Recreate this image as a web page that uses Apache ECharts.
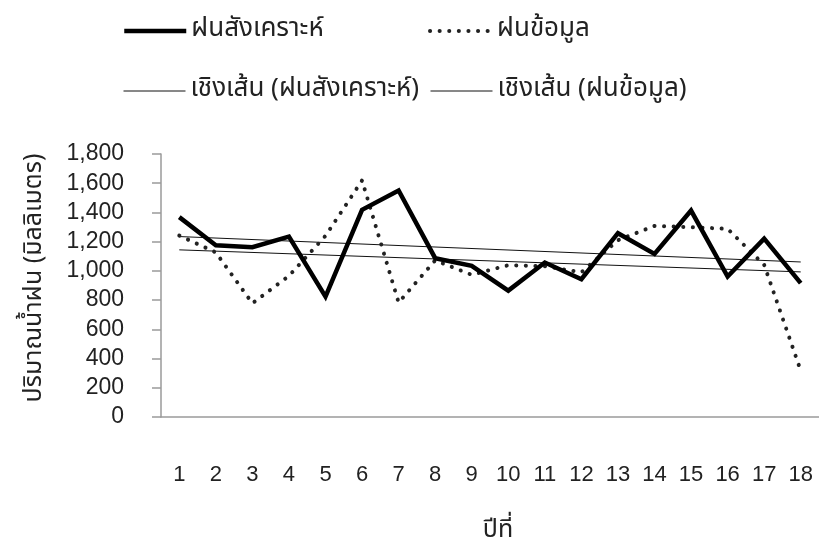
<!DOCTYPE html>
<html>
<head>
<meta charset="utf-8">
<script src="https://cdn.jsdelivr.net/npm/echarts@6/dist/echarts.min.js"></script>
<style>
  html, body { margin: 0; padding: 0; background: #fff; }
  #chart { width: 819px; height: 552px; }
</style>
</head>
<body>
<div id="chart"></div>
<script>
// Year index along the x axis
const years = ['1','2','3','4','5','6','7','8','9','10','11','12','13','14','15','16','17','18'];

// Annual rainfall (mm)
const synthRain    = [1368, 1176, 1162, 1235, 824, 1418, 1550, 1087, 1034, 865, 1057, 943, 1258, 1116, 1413, 961, 1221, 916];
const observedRain = [1242, 1126, 778, 966, 1240, 1619, 783, 1072, 973, 1039, 1032, 990, 1210, 1308, 1299, 1288, 1041, 317];

// Linear trend values at the first and last year
const synthTrendEnds    = [1235, 1061];
const observedTrendEnds = [1144, 993];

const seriesNames = ['ฝนสังเคราะห์', 'ฝนข้อมูล', 'เชิงเส้น (ฝนสังเคราะห์)', 'เชิงเส้น (ฝนข้อมูล)'];
const yAxisTitle = 'ปริมาณน้ำฝน (มิลลิเมตร)';
const xAxisTitle = 'ปีที่';

const thaiFont = "Tahoma, 'Noto Sans Thai', 'Noto Sans', 'DejaVu Sans', sans-serif";
const numFont = "Arial, 'Liberation Sans', sans-serif";

const solidStyle  = { color: '#000', width: 4.5 };
const dottedStyle = { color: '#222', width: 4, type: [0.1, 9.5], cap: 'round' };
const trendStyle  = { color: '#111', width: 1 };

// A trend series spans the whole axis: value at both ends, gaps between
function trendData(ends) {
  return years.map((_, i) => i === 0 ? ends[0] : (i === years.length - 1 ? ends[1] : null));
}

function legendAt(name, left, top, lineStyle) {
  return {
    data: [name],
    left: left,
    top: top,
    padding: 0,
    itemWidth: 62,
    itemHeight: 14,
    selectedMode: false,
    itemStyle: { opacity: 0, borderWidth: 0 },
    lineStyle: lineStyle,
    textStyle: { fontFamily: thaiFont, fontSize: 26, color: '#222' }
  };
}

const chart = echarts.init(document.getElementById('chart'), null, { renderer: 'canvas' });

chart.setOption({
  animation: false,
  backgroundColor: '#fff',
  legend: [
    legendAt(seriesNames[0], 122, 18, solidStyle),
    legendAt(seriesNames[1], 428, 18, dottedStyle),
    legendAt(seriesNames[2], 123, 78, trendStyle),
    legendAt(seriesNames[3], 430, 78, trendStyle)
  ],
  grid: { left: 161, top: 154, width: 663, height: 263, containLabel: false },
  xAxis: {
    type: 'category',
    data: years,
    boundaryGap: true,
    name: xAxisTitle,
    nameLocation: 'middle',
    nameGap: 102,
    nameTextStyle: { fontFamily: thaiFont, fontSize: 25, color: '#222', padding: [0, 0, 0, 16] },
    axisLine: { lineStyle: { color: '#9a9a9a', width: 1.5 } },
    axisTick: { show: false },
    axisLabel: { margin: 47, fontFamily: numFont, fontSize: 22, color: '#222', interval: 0 },
    splitLine: { show: false }
  },
  yAxis: {
    type: 'value',
    min: 0,
    max: 1800,
    interval: 200,
    axisLine: { show: true, lineStyle: { color: '#9a9a9a', width: 1.5 } },
    axisTick: { show: true, length: 9, lineStyle: { color: '#9a9a9a', width: 1.5 } },
    axisLabel: {
      margin: 37,
      fontFamily: numFont,
      fontSize: 23,
      color: '#222',
      formatter: v => v.toLocaleString('en-US')
    },
    splitLine: { show: false }
  },
  graphic: [{
    type: 'text',
    x: 36,
    y: 278,
    rotation: Math.PI / 2,
    style: {
      text: yAxisTitle,
      fontFamily: thaiFont,
      fontSize: 25,
      fill: '#222',
      align: 'center',
      verticalAlign: 'middle'
    }
  }],
  series: [
    {
      name: seriesNames[2],
      type: 'line',
      data: trendData(synthTrendEnds),
      connectNulls: true,
      symbol: 'none',
      itemStyle: { color: '#111' },
      lineStyle: trendStyle,
      z: 2
    },
    {
      name: seriesNames[3],
      type: 'line',
      data: trendData(observedTrendEnds),
      connectNulls: true,
      symbol: 'none',
      itemStyle: { color: '#111' },
      lineStyle: trendStyle,
      z: 2
    },
    {
      name: seriesNames[1],
      type: 'line',
      data: observedRain,
      symbol: 'none',
      itemStyle: { color: '#222' },
      lineStyle: dottedStyle,
      z: 3
    },
    {
      name: seriesNames[0],
      type: 'line',
      data: synthRain,
      symbol: 'none',
      itemStyle: { color: '#000' },
      lineStyle: Object.assign({ join: 'miter' }, solidStyle),
      z: 4
    }
  ]
});
</script>
</body>
</html>
